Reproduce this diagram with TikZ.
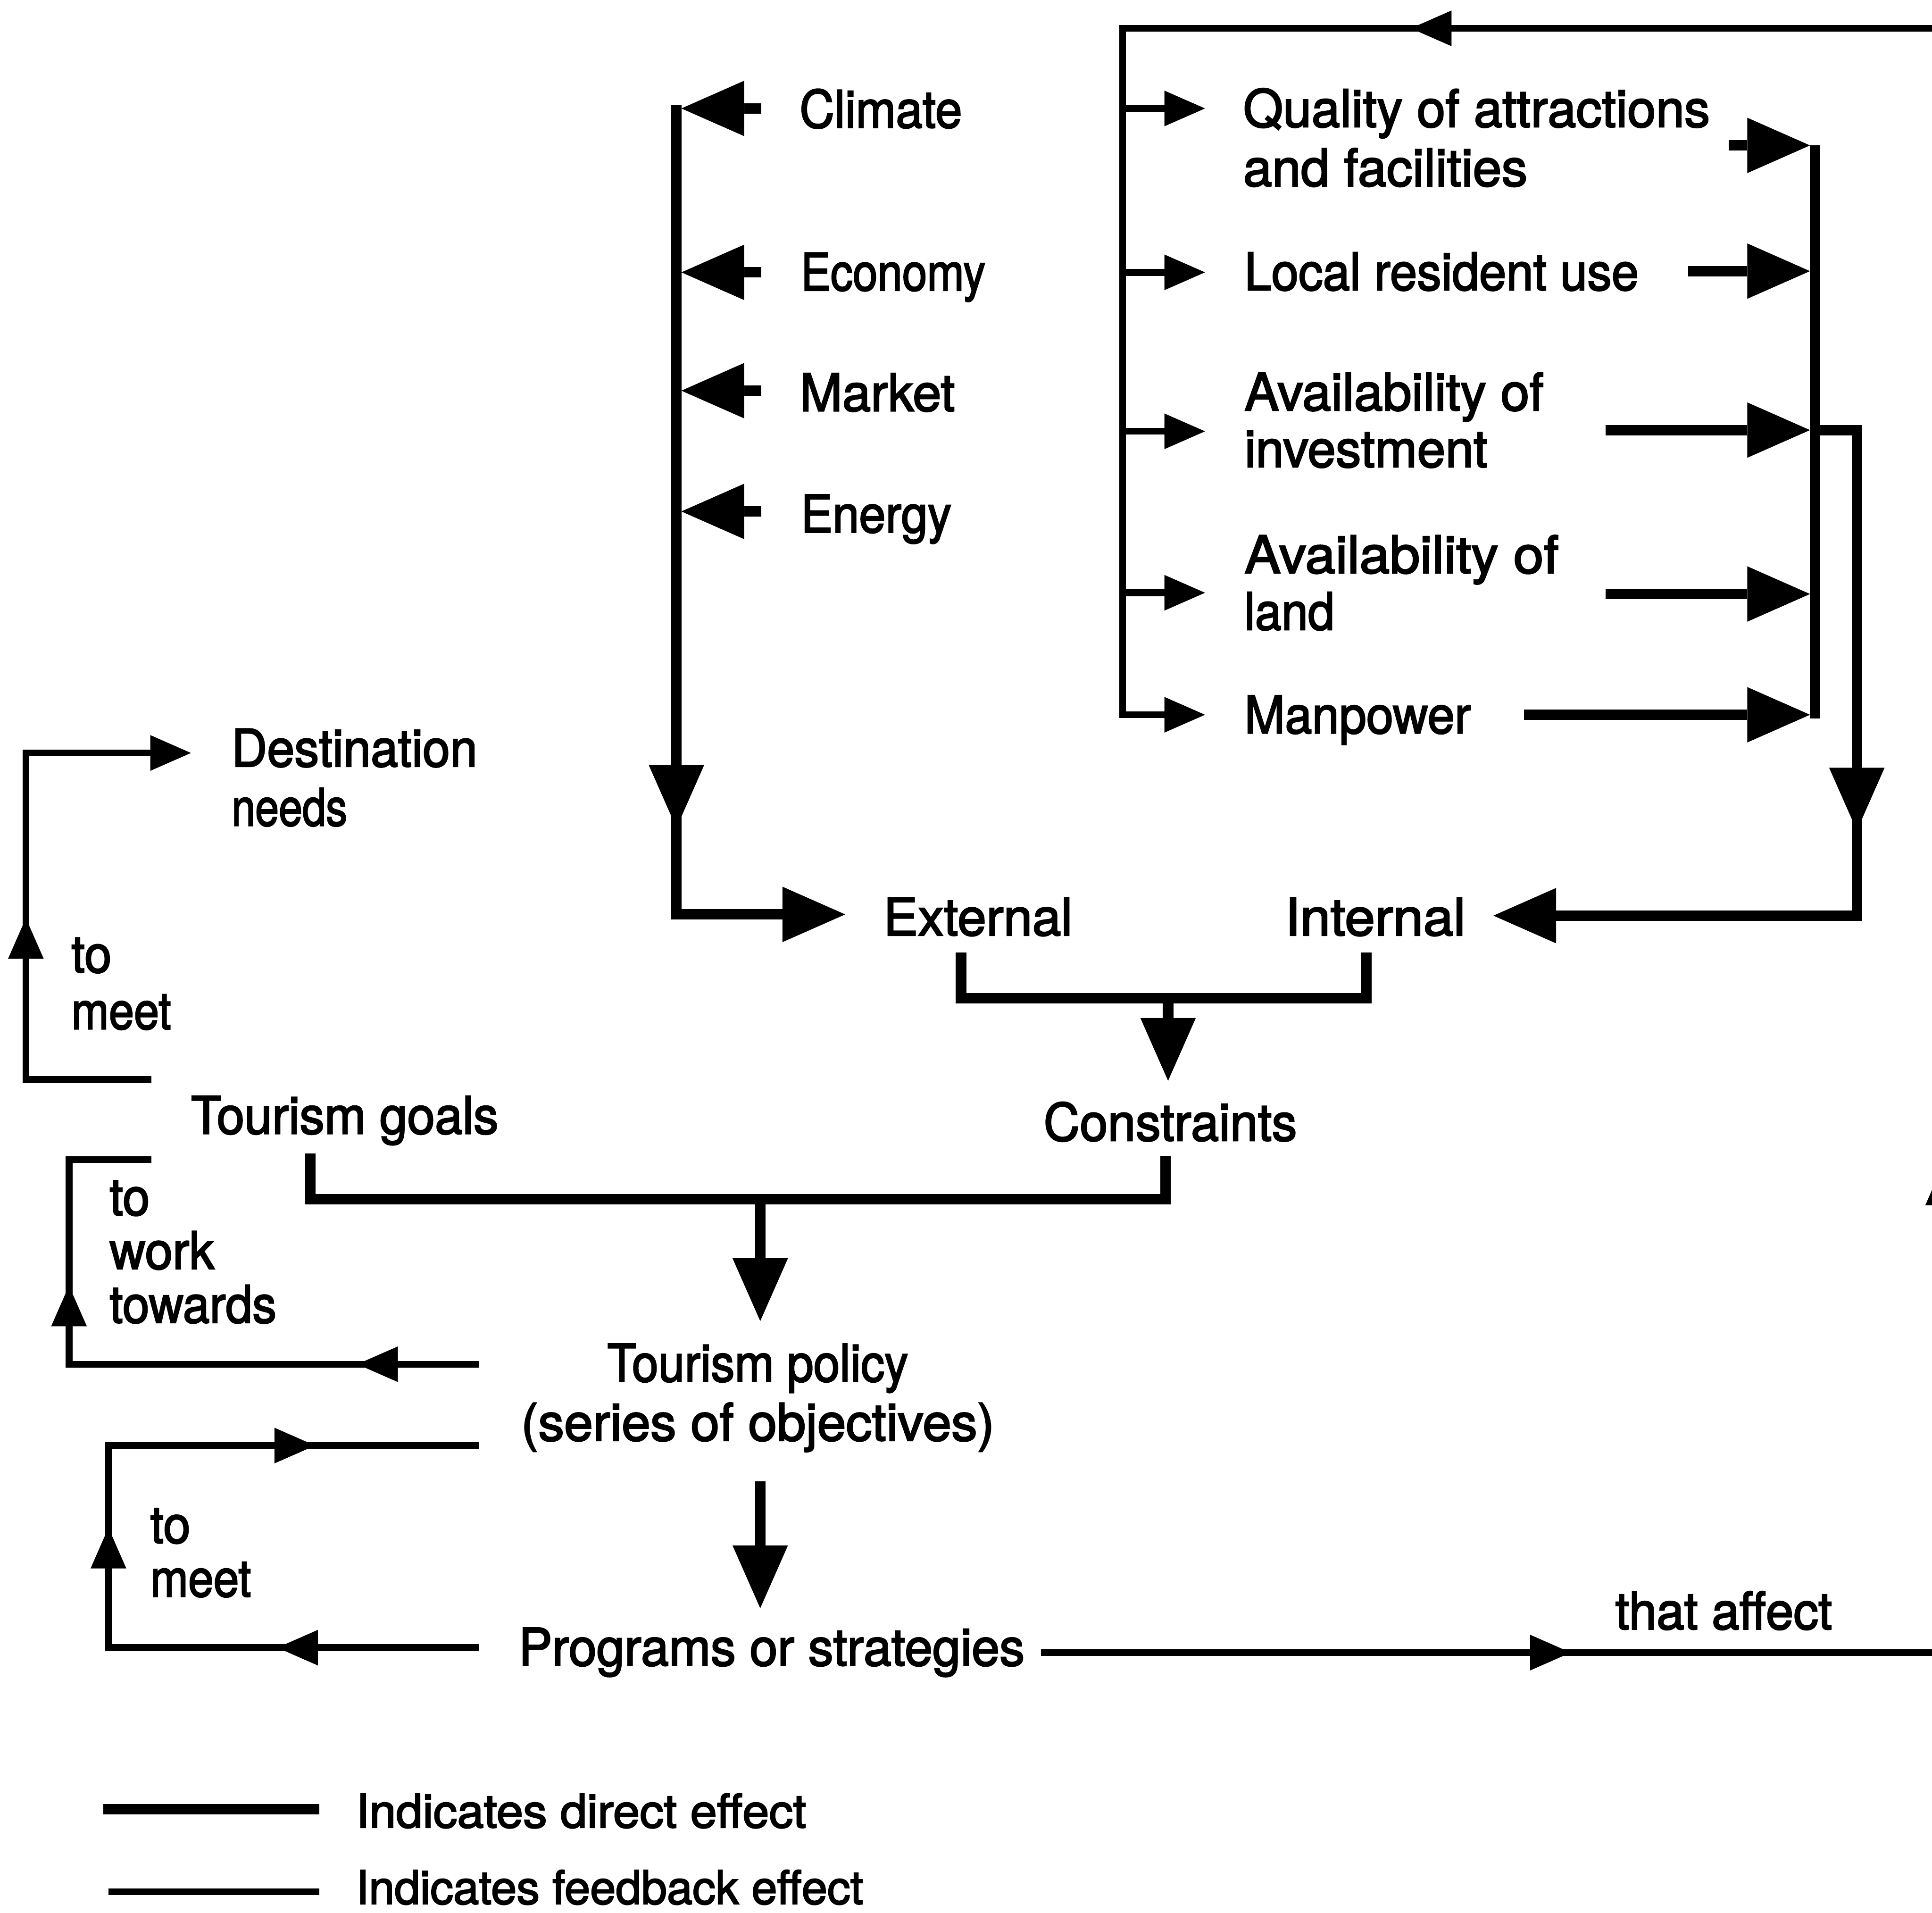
\documentclass[tikz,border=0pt]{standalone}
\usepackage{fontspec}
\setmainfont[FakeBold=2.5]{TeX Gyre Heros}
\usepackage{graphicx}
\usetikzlibrary{arrows.meta,decorations.markings}

% horizontal squeeze/stretch of one line of text
\newcommand\hsc[2]{\scalebox{#1}[1]{#2}}
% stacked lines with a given baseline distance (first baseline = node base)
\newcommand\lstack[2]{{\fontsize{36.5pt}{#1}\selectfont\begin{tabular}[t]{@{}l@{}}#2\end{tabular}}}
\newcommand\cstack[2]{{\fontsize{36.5pt}{#1}\selectfont\begin{tabular}[t]{@{}c@{}}#2\end{tabular}}}

\tikzset{
  bigtip/.tip={Triangle[length=44.3pt,width=39.1pt,line width=0pt]},
  smalltip/.tip={Triangle[length=28.7pt,width=25.2pt,line width=0pt]},
  direct/.style={line width=7.4pt},
  feedback/.style={line width=4.8pt},
  lbl/.style={inner sep=0pt, outer sep=0pt, anchor=base west,
              font={\fontsize{36.5pt}{40pt}\selectfont}},
  clbl/.style={lbl, anchor=base},
  legendlbl/.style={lbl, font={\fontsize{32.8pt}{38pt}\selectfont}},
  midtips/.style={postaction={decorate,decoration={markings,#1}}},
}

\begin{document}
\begin{tikzpicture}[x=0.030548cm,y=-0.030548cm]
\useasboundingbox (0,0) rectangle (1568,1552);
\fill[white] (0,0) rectangle (1568,1552);
\clip (0,0) rectangle (1568,1552);

% ---------- labels ----------
\node[lbl] (climate) at (649,103.6) {\hsc{0.93}{Climate}};
\node[lbl] (economy) at (650,235.7) {\hsc{0.86}{Economy}};
\node[lbl] (market) at (649,333.5) {\hsc{0.99}{Market}};
\node[lbl] (energy) at (650,432) {\hsc{0.92}{Energy}};

\node[lbl] (quality) at (1009,103) {\lstack{41.7pt}{\hsc{0.99}{Quality of attractions}\\\hsc{1.0}{and facilities}}};
\node[lbl] (resident) at (1010,235.4) {\hsc{0.94}{Local resident use}};
\node[lbl] (investment) at (1010,333) {\lstack{40pt}{\hsc{1.0}{Availability of}\\\hsc{0.98}{investment}}};
\node[lbl] (land) at (1010,465) {\lstack{40pt}{\hsc{1.05}{Availability of}\\\hsc{0.92}{land}}};
\node[lbl] (manpower) at (1010,595) {\hsc{0.94}{Manpower}};

\node[lbl] (destination) at (188,622) {\lstack{41.7pt}{\hsc{0.95}{Destination}\\\hsc{0.82}{needs}}};
\node[lbl] (meetA) at (58,789) {\lstack{40pt}{\hsc{0.94}{to}\\\hsc{0.87}{meet}}};
\node[lbl] (goals) at (155,920) {\hsc{0.96}{Tourism goals}};
\node[lbl] (towards) at (89,986) {\lstack{37.8pt}{\hsc{0.94}{to}\\\hsc{0.96}{work}\\\hsc{0.93}{towards}}};

\node[lbl] (external) at (717,759) {\hsc{1.0}{External}};
\node[lbl] (internal) at (1043,759) {\hsc{1.05}{Internal}};
\node[lbl] (constraints) at (847,925.6) {\hsc{0.97}{Constraints}};

\node[clbl] (policy) at (615,1121) {\cstack{41.7pt}{\hsc{0.915}{Tourism policy}\\\hsc{1.0}{(series of objectives)}}};
\node[lbl] (meetB) at (122,1252) {\lstack{37.8pt}{\hsc{0.94}{to}\\\hsc{0.88}{meet}}};
\node[lbl] (programs) at (421,1351.5) {\hsc{0.97}{Programs or strategies}};
\node[lbl] (affect) at (1311,1322) {\hsc{0.96}{that affect}};

\node[legendlbl] (legdirect) at (289,1483) {\hsc{1.03}{Indicates direct effect}};
\node[legendlbl] (legfeedback) at (289,1545) {\hsc{0.99}{Indicates feedback effect}};

% ---------- junction points ----------
\coordinate (climateOut) at (618,88);   \coordinate (climateIn) at (553,88);
\coordinate (economyOut) at (618,221);  \coordinate (economyIn) at (553,221);
\coordinate (marketOut) at (618,317);   \coordinate (marketIn) at (553,317);
\coordinate (energyOut) at (618,415);   \coordinate (energyIn) at (553,415);
\coordinate (extTop) at (549,85);
\coordinate (extBend) at (549,742);
\coordinate (externalIn) at (686,742);

\coordinate (intTop) at (1473,118);
\coordinate (intBottom) at (1473,583);
\coordinate (qualityOut) at (1403,118);  \coordinate (qualityJoin) at (1469,118);
\coordinate (residentOut) at (1370,220); \coordinate (residentJoin) at (1469,220);
\coordinate (investOut) at (1303,349);   \coordinate (investJoin) at (1469,349);
\coordinate (landOut) at (1303,482);     \coordinate (landJoin) at (1469,482);
\coordinate (manOut) at (1237,580);      \coordinate (manJoin) at (1469,580);
\coordinate (intFork) at (1473,349);
\coordinate (intCornerA) at (1507,349);
\coordinate (intCornerB) at (1507,743);
\coordinate (internalIn) at (1212,743);

\coordinate (extBr) at (780,773);  \coordinate (extBrLow) at (780,810);
\coordinate (intBr) at (1109,773); \coordinate (intBrLow) at (1109,810);
\coordinate (conMid) at (948,810); \coordinate (constraintsIn) at (948,877);

\coordinate (goalsBr) at (252,936);  \coordinate (goalsBrLow) at (252,973);
\coordinate (conBr) at (946,938);    \coordinate (conBrLow) at (946,973);
\coordinate (polMid) at (617,973);   \coordinate (policyIn) at (617,1072);
\coordinate (policyOut) at (617,1202); \coordinate (programsIn) at (617,1305);

\coordinate (progOut) at (845,1341);
\coordinate (loopBR) at (1577,1341);
\coordinate (loopTR) at (1577,23);
\coordinate (loopTL) at (911,23);
\coordinate (loopBL) at (911,580);
\coordinate (manIn) at (978,580);
\coordinate (qualityTap) at (911,88);   \coordinate (qualityIn) at (978,88);
\coordinate (residentTap) at (911,221); \coordinate (residentIn) at (978,221);
\coordinate (investTap) at (911,350);   \coordinate (investIn) at (978,350);
\coordinate (landTap) at (911,481);     \coordinate (landIn) at (978,481);

\coordinate (goalsA) at (123,876);  \coordinate (needsA) at (21,876);
\coordinate (needsB) at (21,611);   \coordinate (destinationIn) at (155,611);
\coordinate (policyA) at (389,1107); \coordinate (goalsB) at (56,1107);
\coordinate (goalsC) at (56,941);    \coordinate (goalsIn) at (123,941);
\coordinate (programsA) at (389,1337); \coordinate (policyB) at (88,1337);
\coordinate (policyC) at (88,1173);    \coordinate (policyBack) at (389,1173);

% ---------- external constraints ----------
\draw[direct,-{bigtip}] (climateOut) -- (climateIn);
\draw[direct,-{bigtip}] (economyOut) -- (economyIn);
\draw[direct,-{bigtip}] (marketOut) -- (marketIn);
\draw[direct,-{bigtip}] (energyOut) -- (energyIn);
\draw[direct,-{bigtip},midtips={mark=at position 0.739 with {\arrow{bigtip}}}]
  (extTop) -- (extBend) -- (externalIn);

% ---------- internal constraints ----------
\draw[direct] (intTop) -- (intBottom);
\draw[direct,-{bigtip}] (qualityOut) -- (qualityJoin);
\draw[direct,-{bigtip}] (residentOut) -- (residentJoin);
\draw[direct,-{bigtip}] (investOut) -- (investJoin);
\draw[direct,-{bigtip}] (landOut) -- (landJoin);
\draw[direct,-{bigtip}] (manOut) -- (manJoin);
\draw[direct,-{bigtip},midtips={mark=at position 0.4965 with {\arrow{bigtip}}}]
  (intFork) -- (intCornerA) -- (intCornerB) -- (internalIn);

% ---------- constraints and policy ----------
\draw[direct] (extBr) -- (extBrLow) -- (intBrLow) -- (intBr);
\draw[direct,-{bigtip}] (conMid) -- (constraintsIn);
\draw[direct] (goalsBr) -- (goalsBrLow) -- (conBrLow) -- (conBr);
\draw[direct,-{bigtip}] (polMid) -- (policyIn);
\draw[direct,-{bigtip}] (policyOut) -- (programsIn);

% ---------- feedback from programs to the internal factors ----------
\draw[feedback,-{smalltip},midtips={mark=at position 0.1287 with {\arrow{smalltip}},
      mark=at position 0.3377 with {\arrow{smalltip}},
      mark=at position 0.7431 with {\arrow{smalltip}}}]
  (progOut) -- (loopBR) -- (loopTR) -- (loopTL) -- (loopBL) -- (manIn);
\draw[feedback,-{smalltip}] (qualityTap) -- (qualityIn);
\draw[feedback,-{smalltip}] (residentTap) -- (residentIn);
\draw[feedback,-{smalltip}] (investTap) -- (investIn);
\draw[feedback,-{smalltip}] (landTap) -- (landIn);

% ---------- feedback loops on the left ----------
\draw[feedback,-{smalltip},midtips={mark=at position 0.465 with {\arrow{smalltip}}}]
  (goalsA) -- (needsA) -- (needsB) -- (destinationIn);
\draw[feedback,midtips={mark=at position 0.175 with {\arrow{smalltip}},
      mark=at position 0.701 with {\arrow{smalltip}}}]
  (policyA) -- (goalsB) -- (goalsC) -- (goalsIn);
\draw[feedback,midtips={mark=at position 0.214 with {\arrow{smalltip}},
      mark=at position 0.520 with {\arrow{smalltip}},
      mark=at position 0.826 with {\arrow{smalltip}}}]
  (programsA) -- (policyB) -- (policyC) -- (policyBack);

% ---------- legend ----------
\coordinate (legDirA) at (84,1468);  \coordinate (legDirB) at (259,1468);
\coordinate (legFbA) at (88,1535);   \coordinate (legFbB) at (259,1535);
\draw[direct] (legDirA) -- (legDirB);
\draw[feedback] (legFbA) -- (legFbB);
\end{tikzpicture}
\end{document}
